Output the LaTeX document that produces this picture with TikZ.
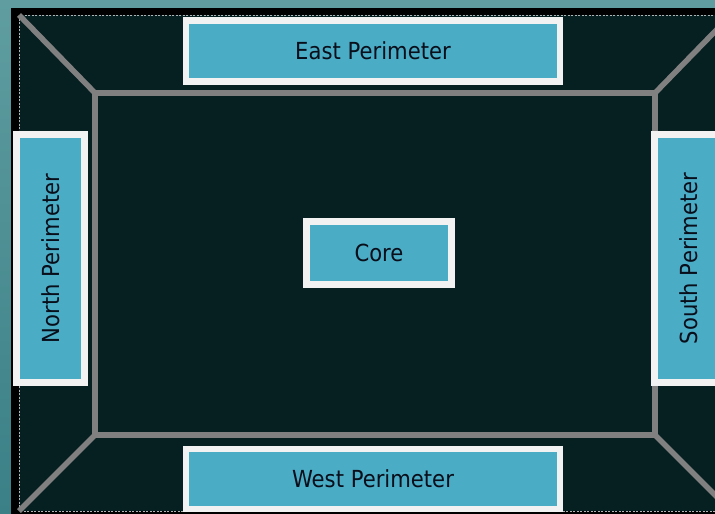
\documentclass[tikz,border=0pt]{standalone}
\usepackage{fontspec}
\newfontfamily\labelfont[FakeStretch=0.9]{DejaVu Sans}
\definecolor{bgteal}{RGB}{95,157,160}
\definecolor{bgtealdark}{RGB}{58,128,134}
\definecolor{darkfield}{RGB}{6,31,33}
\definecolor{framegray}{RGB}{128,128,128}
\definecolor{dashgray}{RGB}{175,180,180}
\definecolor{zoneblue}{RGB}{75,172,198}
\definecolor{boxwhite}{RGB}{242,242,242}
\definecolor{labelink}{RGB}{8,14,26}
\tikzset{
  zone/.style={draw=boxwhite, line width=6.5pt, fill=zoneblue, inner sep=0pt,
    text=labelink, font=\labelfont\fontsize{23.5}{28}\selectfont},
  framebar/.style={draw=framegray, line width=5.5pt},
}
\begin{document}
\begin{tikzpicture}[x=1pt,y=-1pt]
\useasboundingbox (0,0) rectangle (715,514);
% background
\shade[top color=bgteal, bottom color=bgtealdark] (0,0) rectangle (715,514);
\fill[black] (11,8) rectangle (715,514);
\fill[darkfield] (19,15) rectangle (731,511);
\draw[dashgray, line width=1pt, dash pattern=on 2pt off 1.5pt] (19,15) rectangle (731,511);
% frame corners
\coordinate (o1) at (19,15);
\coordinate (o2) at (731,15);
\coordinate (o3) at (731,511);
\coordinate (o4) at (19,511);
\coordinate (i1) at (95,93);
\coordinate (i2) at (655,93);
\coordinate (i3) at (655,435);
\coordinate (i4) at (95,435);
\draw[framebar] (o1) -- (i1);
\draw[framebar] (o2) -- (i2);
\draw[framebar] (o3) -- (i3);
\draw[framebar] (o4) -- (i4);
\draw[framebar] (i1) -- (i2) -- (i3) -- (i4) -- cycle;
% zones
\node[zone, minimum width=374pt, minimum height=61pt] (east) at (373,51) {East Perimeter};
\node[zone, minimum width=374pt, minimum height=60pt] (west) at (373,479) {West Perimeter};
\node[zone, minimum width=145pt, minimum height=63pt] (core) at (379,253) {Core};
\node[zone, rotate=90, minimum width=248pt, minimum height=68pt] (north) at (50.5,258.5) {North Perimeter};
\node[zone, rotate=90, minimum width=248pt, minimum height=68pt] (south) at (688.5,258.5) {South Perimeter};
\end{tikzpicture}
\end{document}
